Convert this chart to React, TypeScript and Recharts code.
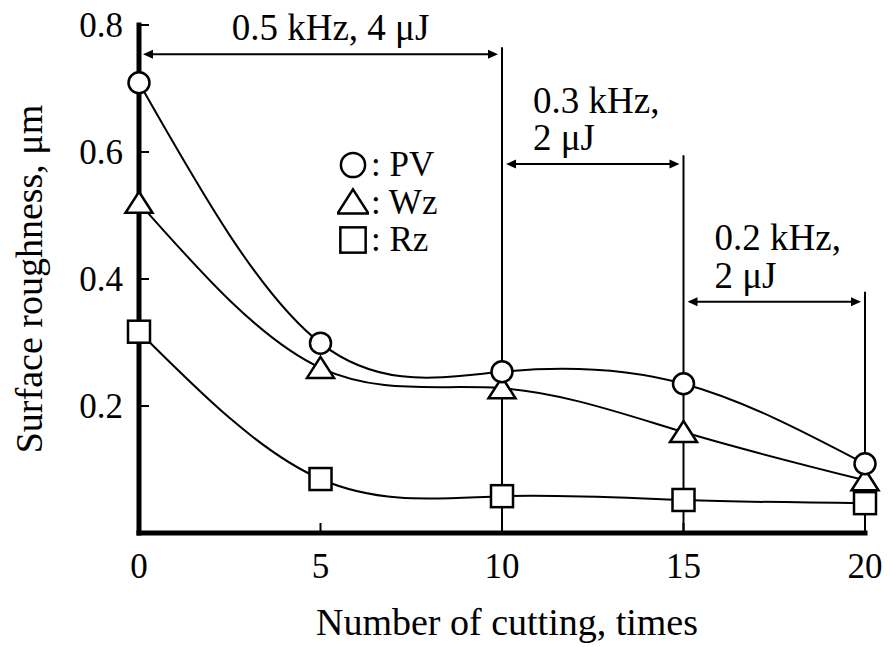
import { LineChart, Line, XAxis, YAxis, ReferenceLine, Legend, Label } from 'recharts';

const cuttingTimes = [0, 5, 10, 15, 20];
const pvValues = [0.709, 0.299, 0.254, 0.235, 0.109];
const wzValues = [0.52, 0.26, 0.228, 0.159, 0.083];
const rzValues = [0.317, 0.085, 0.058, 0.052, 0.047];
const xTicks = [0, 5, 10, 15, 20];
const yTicks = [0.2, 0.4, 0.6, 0.8];
const legendOrder = ['PV', 'Wz', 'Rz'];

// boundaries between laser conditions (x) and how high each line reaches
const stageBounds = [
  { x: 10, top: 0.765 },
  { x: 15, top: 0.595 },
  { x: 20, top: 0.38 },
];
const stageArrows = [
  { from: 0, to: 10, y: 0.754, text: ['0.5 kHz, 4 μJ'] },
  { from: 10, to: 15, y: 0.581, text: ['0.3 kHz,', '2 μJ'] },
  { from: 15, to: 20, y: 0.364, text: ['0.2 kHz,', '2 μJ'] },
];

const data = cuttingTimes.map((t, i) => ({
  t,
  PV: pvValues[i],
  Wz: wzValues[i],
  Rz: rzValues[i],
}));

const FONT = '"Liberation Serif", "Times New Roman", serif';

type Kind = 'PV' | 'Wz' | 'Rz';

function MarkerShape({ kind, cx, cy, s = 1 }: { kind: Kind; cx: number; cy: number; s?: number }) {
  const common = { fill: '#fff', stroke: '#000', strokeWidth: 2.5 };
  if (kind === 'PV') return <circle cx={cx} cy={cy} r={10.5 * s} {...common} />;
  if (kind === 'Wz') {
    const pts = `${cx},${cy - 11 * s} ${cx + 13.5 * s},${cy + 10 * s} ${cx - 13.5 * s},${cy + 10 * s}`;
    return <polygon points={pts} {...common} />;
  }
  return <rect x={cx - 11 * s} y={cy - 11 * s} width={22 * s} height={22 * s} {...common} />;
}

const dotFor = (kind: Kind) => (props: any) => {
  const { cx, cy, index } = props;
  if (cx == null || cy == null) return <g key={`${kind}-${index}`} />;
  return (
    <g key={`${kind}-${index}`}>
      <MarkerShape kind={kind} cx={cx} cy={cy} />
    </g>
  );
};

function YTick({ x, y, payload }: any) {
  return (
    <g>
      <line x1={x} x2={x + 10} y1={y} y2={y} stroke="#000" strokeWidth={2} />
      <text x={x - 16} y={y} dy="0.35em" textAnchor="end" fontSize={35} fontFamily={FONT} fill="#000">
        {payload.value}
      </text>
    </g>
  );
}

function XTick({ x, y, payload }: any) {
  return (
    <g>
      <line x1={x} x2={x} y1={y} y2={y - 10} stroke="#000" strokeWidth={2} />
      <text x={x} y={y + 45} textAnchor="middle" fontSize={35} fontFamily={FONT} fill="#000">
        {payload.value}
      </text>
    </g>
  );
}

function arrowShape(text: string[]) {
  return (props: any) => {
    const { x1, x2, y1 } = props;
    const a = Math.min(x1, x2) + 4;
    const b = Math.max(x1, x2) - 4;
    const head = 10;
    const half = 4.5;
    return (
      <g>
        <line x1={a + head - 2} x2={b - head + 2} y1={y1} y2={y1} stroke="#000" strokeWidth={2} />
        <polygon points={`${a},${y1} ${a + head},${y1 - half} ${a + head},${y1 + half}`} fill="#000" />
        <polygon points={`${b},${y1} ${b - head},${y1 - half} ${b - head},${y1 + half}`} fill="#000" />
        {text.length === 1 ? (
          <text x={(a + b) / 2 + 10} y={y1 - 14} textAnchor="middle" fontSize={37} fontFamily={FONT} fill="#000">
            {text[0]}
          </text>
        ) : (
          text.map((line, i) => (
            <text
              key={i}
              x={Math.min(x1, x2) + 31}
              y={y1 - 14 - (text.length - 1 - i) * 37.5}
              fontSize={37}
              fontFamily={FONT}
              fill="#000"
            >
              {line}
            </text>
          ))
        )}
      </g>
    );
  };
}

function LegendBox() {
  return (
    <div style={{ fontFamily: FONT, fontSize: 35, color: '#000' }}>
      {legendOrder.map((name) => (
        <div key={name} style={{ display: 'flex', alignItems: 'center', height: 37.5, lineHeight: '37.5px' }}>
          <svg width={32} height={32} style={{ marginRight: 2 }}>
            <MarkerShape kind={name as Kind} cx={16} cy={16} s={1.15} />
          </svg>
          <span>: {name}</span>
        </div>
      ))}
    </div>
  );
}

export default function App() {
  return (
    <div style={{ position: 'absolute', left: 0, top: 0, background: '#fff' }}>
      <LineChart width={890} height={647} data={data} margin={{ top: 25, right: 25, bottom: 0, left: 0 }}>
        <XAxis
          dataKey="t"
          type="number"
          domain={[0, 20]}
          ticks={xTicks}
          height={114}
          tickSize={0}
          tickMargin={0}
          tickLine={false}
          axisLine={{ stroke: '#000', strokeWidth: 5, strokeLinecap: 'square' }}
          tick={<XTick />}
        >
          <Label
            content={({ viewBox }: any) => (
              <text
                x={viewBox.x + viewBox.width / 2 + 5}
                y={viewBox.y + viewBox.height - 12}
                textAnchor="middle"
                fontSize={38}
                fontFamily={FONT}
                fill="#000"
              >
                Number of cutting, times
              </text>
            )}
          />
        </XAxis>
        <YAxis
          type="number"
          domain={[0, 0.8]}
          ticks={yTicks}
          width={139}
          tickSize={0}
          tickMargin={0}
          tickLine={false}
          axisLine={{ stroke: '#000', strokeWidth: 5, strokeLinecap: 'square' }}
          tick={<YTick />}
        >
          <Label
            content={({ viewBox }: any) => {
              const cy = viewBox.y + viewBox.height / 2;
              return (
                <text
                  x={42}
                  y={cy}
                  transform={`rotate(-90, 42, ${cy})`}
                  textAnchor="middle"
                  fontSize={38}
                  fontFamily={FONT}
                  fill="#000"
                >
                  Surface roughness, μm
                </text>
              );
            }}
          />
        </YAxis>
        {stageBounds.map((b) => (
          <ReferenceLine
            key={`b-${b.x}`}
            segment={[{ x: b.x, y: 0 }, { x: b.x, y: b.top }]}
            stroke="#000"
            strokeWidth={2}
            ifOverflow="visible"
            zIndex={100}
          />
        ))}
        {stageArrows.map((s) => (
          <ReferenceLine
            key={`a-${s.from}`}
            segment={[{ x: s.from, y: s.y }, { x: s.to, y: s.y }]}
            ifOverflow="visible"
            zIndex={100}
            shape={arrowShape(s.text)}
          />
        ))}
        <Legend
          layout="vertical"
          align="center"
          verticalAlign="middle"
          content={<LegendBox />}
          wrapperStyle={{ left: 337, top: 146, width: 160 }}
        />
        <Line type="natural" dataKey="Rz" stroke="#000" strokeWidth={2} dot={dotFor('Rz')} isAnimationActive={false} />
        <Line type="natural" dataKey="Wz" stroke="#000" strokeWidth={2} dot={dotFor('Wz')} isAnimationActive={false} />
        <Line type="natural" dataKey="PV" stroke="#000" strokeWidth={2} dot={dotFor('PV')} isAnimationActive={false} />
      </LineChart>
    </div>
  );
}
